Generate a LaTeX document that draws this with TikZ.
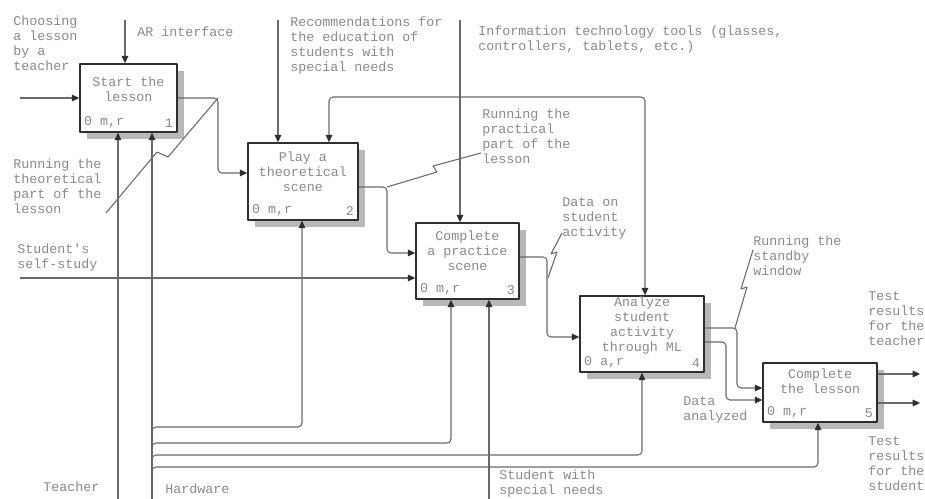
\documentclass[tikz,border=0pt]{standalone}
\usepackage{fontspec}
\setmonofont{Liberation Mono}
\usepackage{tikz}
\usetikzlibrary{arrows.meta,shadows}
\definecolor{ink}{HTML}{2E2E2E}
\definecolor{wire}{HTML}{6A6A6A}
\definecolor{lbl}{HTML}{8A8A8A}
\tikzset{
  every picture/.style={font=\ttfamily\fontsize{10}{11.25}\selectfont, line join=round},
  box/.style={draw=ink, line width=1.2pt, fill=white, inner sep=0pt,
    drop shadow={shadow xshift=5pt, shadow yshift=-5pt, fill=black!28, opacity=1}},
  title/.style={text=lbl, align=center, inner sep=0pt, anchor=north},
  corner/.style={text=lbl, inner sep=3.5pt},
  lab/.style={text=lbl, align=left, inner sep=0pt, anchor=north west},
  flow/.style={draw=wire, line width=0.8pt, rounded corners=3pt,
    -{Triangle[length=5.5pt,width=5pt,color=ink]}},
  squig/.style={draw=wire, line width=0.8pt},
}

\begin{document}
\begin{tikzpicture}[x=0.75pt,y=-0.75pt]
\path[fill=white,use as bounding box] (0,0) rectangle (925,499);
\node[box,minimum width=72.75pt,minimum height=51pt] (b1) at (128.5,98) {};
\node[box,minimum width=82.5pt,minimum height=57.75pt] (b2) at (303,181.5) {};
\node[box,minimum width=77.25pt,minimum height=57pt] (b3) at (467.5,261) {};
\node[box,minimum width=93pt,minimum height=57pt] (b4) at (642,334) {};
\node[box,minimum width=85.5pt,minimum height=44.25pt] (b5) at (820,392.5) {};
\node[title] (b1t) at (128.5,77) {Start the\\lesson};
\node[title] (b2t) at (303,152) {Play a\\theoretical\\scene};
\node[title] (b3t) at (467.5,231) {Complete\\a practice\\scene};
\node[title] (b4t) at (642,297) {Analyze\\student\\activity\\through ML};
\node[title] (b5t) at (820,369) {Complete\\the lesson};
\node[corner,anchor=south west] (b1m) at (b1.south west) {0 m,r};
\node[corner,anchor=south east] (b1n) at (b1.south east) {1};
\node[corner,anchor=south west] (b2m) at (b2.south west) {0 m,r};
\node[corner,anchor=south east] (b2n) at (b2.south east) {2};
\node[corner,anchor=south west] (b3m) at (b3.south west) {0 m,r};
\node[corner,anchor=south east] (b3n) at (b3.south east) {3};
\node[corner,anchor=south west] (b4m) at (b4.south west) {0 a,r};
\node[corner,anchor=south east] (b4n) at (b4.south east) {4};
\node[corner,anchor=south west] (b5m) at (b5.south west) {0 m,r};
\node[corner,anchor=south east] (b5n) at (b5.south east) {5};

\node[lab] (choose) at (13,16) {Choosing\\a lesson\\by a\\teacher};
\node[lab] (arlab) at (137,27) {AR interface};
\node[lab] (theory) at (13,159) {Running the\\theoretical\\part of the\\lesson};
\node[lab] (recom) at (290,17) {Recommendations for\\the education of\\students with\\special needs};
\node[lab] (ittools) at (478,26) {Information technology tools (glasses,\\controllers, tablets, etc.)};
\node[lab] (practice) at (482,109) {Running the\\practical\\part of the\\lesson};
\node[lab] (selfst) at (17,244) {Student's\\self-study};
\node[lab] (dataon) at (562,197) {Data on\\student\\activity};
\node[lab] (standby) at (753,236) {Running the\\standby\\window};
\node[lab] (danal) at (683,396) {Data\\analyzed};
\node[lab] (restch) at (868,291) {Test\\results\\for the\\teacher};
\node[lab] (resst) at (868,436) {Test\\results\\for the\\student};
\node[lab] (teacher) at (43,482) {Teacher};
\node[lab] (hardware) at (165,484) {Hardware};
\node[lab] (special) at (499,470) {Student with\\special needs};

\coordinate (in1) at (20,98);
\coordinate (arT) at (125,20);
\coordinate (recT) at (278,20);
\coordinate (itT) at (460,20);
\coordinate (itJ) at (460,97);
\coordinate (inSS) at (20,278);
\coordinate (tchB) at (118,499);
\coordinate (hwB) at (152,499);
\coordinate (spB) at (489,499);
\coordinate (out1) at (920,374);
\coordinate (out2) at (920,403);

\draw[flow] (in1) -- (in1 -| b1.west);
\draw[flow] (arT) -- (arT |- b1.north);
\draw[flow] (recT) -- (recT |- b2.north);
\draw[flow] (itT) -- (itT |- b3.north);
\draw[flow] (itJ) -| (b2.north -| 329,0);
\draw[flow] (itJ) -| (b4.north -| 645,0);
\draw[flow] (inSS) -- (inSS -| b3.west);
\draw[flow] (tchB) -- (tchB |- b1.south);
\draw[flow] (hwB) -- (hwB |- b1.south);
\draw[flow] (hwB) |- (302,427) -- (b2.south -| 302,0);
\draw[flow] (hwB) |- (451,443) -- (b3.south -| 451,0);
\draw[flow] (hwB) |- (642,455) -- (b4.south -| 642,0);
\draw[flow] (hwB) |- (818,467) -- (b5.south -| 818,0);
\draw[flow] (spB) -- (spB |- b3.south);

\draw[flow] (b1.east) -| (218,173) -- (b2.west |- 0,173);
\draw[flow] (b2.east |- 0,187) -| (387,253) -- (b3.west |- 0,253);
\draw[flow] (b3.east |- 0,257) -| (547,337) -- (b4.west |- 0,337);
\draw[flow] (b4.east |- 0,328) -| (737,388) -- (b5.west |- 0,388);
\draw[flow] (b4.east |- 0,342) -| (726,400) -- (b5.west |- 0,400);
\draw[flow] (b5.east |- out1) -- (out1);
\draw[flow] (b5.east |- out2) -- (out2);

\draw[squig] (218,98) -- (168,157) -- (157,152) -- (106,213);
\draw[squig] (387,187) -- (437,172) -- (433,166) -- (481,153);
\draw[squig] (548,278) -- (557,252) -- (551,254) -- (562,233);
\draw[squig] (735,328) -- (747,287) -- (741,289) -- (753,250);
\end{tikzpicture}
\end{document}
